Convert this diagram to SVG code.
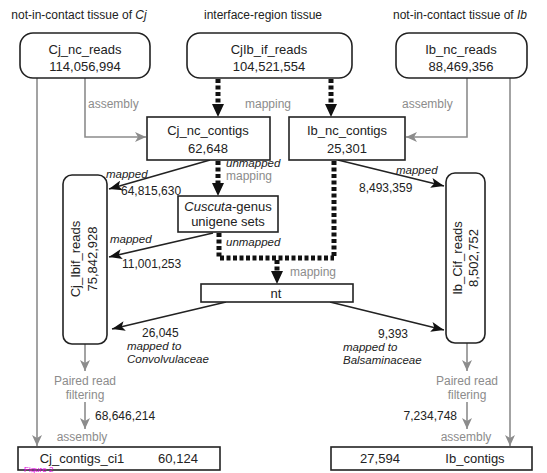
<svg xmlns="http://www.w3.org/2000/svg" width="547" height="473" viewBox="0 0 547 473">
<style>
.bg{fill:#fff}
.node{fill:#fff;stroke:#222;stroke-width:1.6}
.t{font-family:"Liberation Sans",Arial,sans-serif;font-size:13px;fill:#222;text-anchor:middle}
.title{font-family:"Liberation Sans",Arial,sans-serif;font-size:12px;fill:#222;text-anchor:middle}
.lab{font-family:"Liberation Sans",Arial,sans-serif;font-size:11.5px;fill:#222;font-style:italic}
.glab{font-family:"Liberation Sans",Arial,sans-serif;font-size:12px;fill:#8c8c8c}
.num{font-family:"Liberation Sans",Arial,sans-serif;font-size:12px;fill:#222}
.gline{fill:none;stroke:#8c8c8c;stroke-width:1.6}
.bline{fill:none;stroke:#222;stroke-width:1.6}
.dline{fill:none;stroke:#111;stroke-width:5;stroke-dasharray:4 2.5}
</style>
<defs>
<marker id="ga" markerUnits="userSpaceOnUse" markerWidth="12" markerHeight="10" refX="11" refY="5" orient="auto"><path d="M0,0 L11,5 L0,10 L3,5 Z" fill="#8c8c8c"/></marker>
<marker id="ba" markerUnits="userSpaceOnUse" markerWidth="14" markerHeight="10" refX="13" refY="5" orient="auto"><path d="M0,0 L13,5 L0,10 L3,5 Z" fill="#111"/></marker>
</defs>
<rect class="bg" x="0" y="0" width="547" height="473"/>

<g id="titles">
<text class="title" x="79" y="19">not-in-contact tissue of <tspan font-style="italic">Cj</tspan></text>
<text class="title" x="263" y="19">interface-region tissue</text>
<text class="title" x="460" y="19">not-in-contact tissue of <tspan font-style="italic">Ib</tspan></text>
</g>

<g id="connectors">
<path class="gline" d="M37,78 V446" marker-end="url(#ga)"/>
<path class="gline" d="M85,78 V137 H146" marker-end="url(#ga)"/>
<path class="gline" d="M467,78 V137 H406" marker-end="url(#ga)"/>
<path class="gline" d="M510,78 V446" marker-end="url(#ga)"/>
<path class="gline" d="M85,344 V371" marker-end="url(#ga)"/>
<path class="gline" d="M85,402 V429" marker-end="url(#ga)"/>
<path class="gline" d="M467,343 V371" marker-end="url(#ga)"/>
<path class="gline" d="M467,402 V429" marker-end="url(#ga)"/>
<path class="dline" d="M218,79 V105"/>
<path class="dline" d="M331,79 V105"/>
<path class="dline" d="M218,161 V184"/>
<path class="dline" d="M219,233 V258 H334 M334,161 V258"/>
<path class="dline" d="M277,260 V272"/>
<path d="M212,104 L224,104 L218,117 Z M325,104 L337,104 L331,117 Z M212,183 L224,183 L218,196 Z M271,271 L283,271 L277,284 Z" fill="#111"/>
<path class="bline" d="M210,160 L109,189" marker-end="url(#ba)"/>
<path class="bline" d="M213,233 L109,257" marker-end="url(#ba)"/>
<path class="bline" d="M226,302 L112,329" marker-end="url(#ba)"/>
<path class="bline" d="M330,302 L444,330" marker-end="url(#ba)"/>
<path class="bline" d="M338,160 L444,186" marker-end="url(#ba)"/>
</g>

<g id="edge-labels">
<text class="glab" x="88" y="108">assembly</text>
<text class="glab" x="268" y="108" text-anchor="middle">mapping</text>
<text class="glab" x="402" y="108">assembly</text>
<text class="lab" x="226" y="167">unmapped</text>
<text class="glab" x="226" y="180">mapping</text>
<text class="lab" x="226" y="246">unmapped</text>
<text class="glab" x="290" y="276">mapping</text>
<text class="lab" x="106" y="178">mapped</text>
<text class="num" x="121" y="195">64,815,630</text>
<text class="lab" x="110" y="243">mapped</text>
<text class="num" x="122" y="268">11,001,253</text>
<text class="lab" x="396" y="174">mapped</text>
<text class="num" x="359" y="192">8,493,359</text>
<text class="num" x="142" y="337">26,045</text>
<text class="lab" x="127" y="350">mapped to</text>
<text class="lab" x="127" y="363">Convolvulaceae</text>
<text class="num" x="378" y="338">9,393</text>
<text class="lab" x="343" y="351">mapped to</text>
<text class="lab" x="343" y="364">Balsaminaceae</text>
<text class="glab" x="85" y="385" text-anchor="middle">Paired read</text>
<text class="glab" x="85" y="399" text-anchor="middle">filtering</text>
<text class="num" x="95" y="420">68,646,214</text>
<text class="glab" x="82" y="441" text-anchor="middle">assembly</text>
<text class="glab" x="467" y="385" text-anchor="middle">Paired read</text>
<text class="glab" x="467" y="399" text-anchor="middle">filtering</text>
<text class="num" x="457" y="420" text-anchor="end">7,234,748</text>
<text class="glab" x="466" y="441" text-anchor="middle">assembly</text>
</g>

<g id="Cj_nc_reads">
<rect class="node" x="20" y="33" width="130" height="45" rx="13"/>
<text class="t" x="85" y="54">Cj_nc_reads</text>
<text class="t" x="85" y="71">114,056,994</text>
</g>
<g id="CjIb_if_reads">
<rect class="node" x="187" y="33" width="165" height="45" rx="13"/>
<text class="t" x="269" y="54">CjIb_if_reads</text>
<text class="t" x="269" y="71">104,521,554</text>
</g>
<g id="Ib_nc_reads">
<rect class="node" x="396" y="33" width="131" height="45" rx="13"/>
<text class="t" x="461" y="54">Ib_nc_reads</text>
<text class="t" x="461" y="71">88,469,356</text>
</g>
<g id="Cj_nc_contigs">
<rect class="node" x="147" y="117" width="123" height="43"/>
<text class="t" x="208" y="135">Cj_nc_contigs</text>
<text class="t" x="208" y="153">62,648</text>
</g>
<g id="Ib_nc_contigs">
<rect class="node" x="289" y="117" width="116" height="43"/>
<text class="t" x="347" y="135">Ib_nc_contigs</text>
<text class="t" x="347" y="153">25,301</text>
</g>
<g id="Cuscuta_unigene">
<rect class="node" x="178" y="196" width="100" height="36"/>
<text class="t" x="228" y="211" font-size="12"><tspan font-style="italic">Cuscuta</tspan>-genus</text>
<text class="t" x="228" y="226" font-size="12">unigene sets</text>
</g>
<g id="nt">
<rect class="node" x="201" y="284" width="152" height="18"/>
<text class="t" x="276" y="298">nt</text>
</g>
<g id="Cj_Ibif_reads">
<rect class="node" x="63" y="175" width="44" height="169" rx="9"/>
<text class="t" transform="translate(80,259) rotate(-90)">Cj_Ibif_reads</text>
<text class="t" transform="translate(97,259) rotate(-90)">75,842,928</text>
</g>
<g id="Ib_Cif_reads">
<rect class="node" x="446" y="173" width="39" height="170" rx="9"/>
<text class="t" transform="translate(462,258) rotate(-90)">Ib_Cif_reads</text>
<text class="t" transform="translate(478,258) rotate(-90)">8,502,752</text>
</g>
<g id="Cj_contigs_ci1">
<rect class="node" x="18" y="447" width="202" height="23"/>
<text class="t" x="82" y="463">Cj_contigs_ci1</text>
<text class="t" x="178" y="463">60,124</text>
</g>
<g id="Ib_contigs">
<rect class="node" x="331" y="447" width="201" height="23"/>
<text class="t" x="380" y="463">27,594</text>
<text class="t" x="475" y="463">Ib_contigs</text>
</g>
<g id="figure-label">
<text x="24" y="472" font-family="'Liberation Sans',Arial,sans-serif" font-size="8px" fill="#e000e0">Figure 2</text>
</g>
</svg>
